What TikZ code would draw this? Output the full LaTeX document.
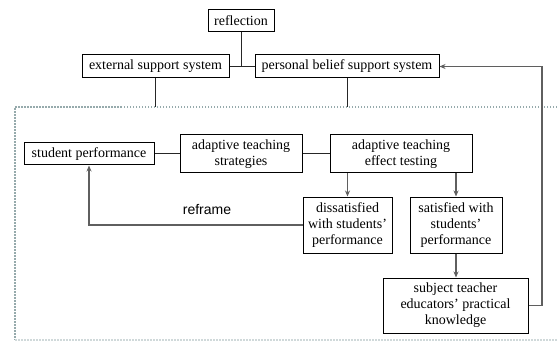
\documentclass[tikz,border=0pt]{standalone}
\usepackage{fontspec}
\setmainfont{Liberation Serif}
\newfontfamily\sansfont{Liberation Sans}
\usetikzlibrary{arrows.meta,calc}
\definecolor{framegray}{RGB}{150,170,172}
\definecolor{flowgray}{RGB}{95,95,95}
\tikzset{box/.style={draw, line width=1pt, fill=white, align=center, inner sep=1pt, font=\fontsize{14}{16}\selectfont}}
\tikzset{link/.style={line width=1pt, black!85}}
\tikzset{flow/.style={line width=1.5pt, flowgray, -{Stealth[length=6pt,width=5pt]}}}
\tikzset{frame/.style={framegray, line width=1.5pt, dash pattern=on 1.5pt off 1.5pt}}

\begin{document}
\begin{tikzpicture}[x=1pt,y=-1pt]
  \useasboundingbox (0,0) rectangle (557,342);
  % dotted frame
  \coordinate (ftl) at (15,107);
  \coordinate (fbl) at (15,340);
  \coordinate (rail) at (542,0);
  \draw[frame] (557,107) -- (ftl) -- (fbl);
  \draw[frame, framegray!45] (fbl) -- (557,340);

  \node (refl) at (241,21)[box, minimum width=66pt, minimum height=22pt]{reflection};
  \node (ext) at (155.5,66.5)[box, minimum width=147pt, minimum height=23pt]{external support system};
  \node (pbs) at (347,66.5)[box, minimum width=184pt, minimum height=23pt]{personal belief support system};

  \node (perf) at (89,154)[box, minimum width=130pt, minimum height=22pt]{student performance};
  \node (strat) at (241,154)[box, minimum width=122pt, minimum height=38pt]{adaptive teaching\\strategies};
  \node (test) at (401,154)[box, minimum width=142pt, minimum height=38pt]{adaptive teaching\\effect testing};
  \node (dissat) at (347.5,225)[box, minimum width=89pt, minimum height=56pt]{dissatisfied\\with students'\\performance};
  \node (sat) at (456,225)[box, minimum width=92pt, minimum height=56pt]{satisfied with\\students'\\performance};
  \node (know) at (455.5,305.5)[box, minimum width=145pt, minimum height=55pt]{subject teacher\\educators' practical\\knowledge};
  \node (reframe) at (207,210)[font=\sansfont\fontsize{14}{16}\selectfont]{reframe};

  \draw[link] (ext) -- (pbs);
  \draw[link] (refl) -- (refl |- pbs);
  \draw[link] (ext) -- (ext |- ftl);
  \draw[link] (pbs) -- (pbs |- ftl);
  \draw[link] (perf) -- (strat);
  \draw[link] (strat) -- (test);

  \draw[flow] (test.south -| dissat) -- (dissat);
  \draw[flow] (test.south -| sat) -- (sat);
  \draw[flow] (sat) -- (sat |- know.north);
  \draw[flow] (dissat) -| (perf);
  \draw[flow] (know) -- (know -| rail) |- (pbs);
\end{tikzpicture}
\end{document}
